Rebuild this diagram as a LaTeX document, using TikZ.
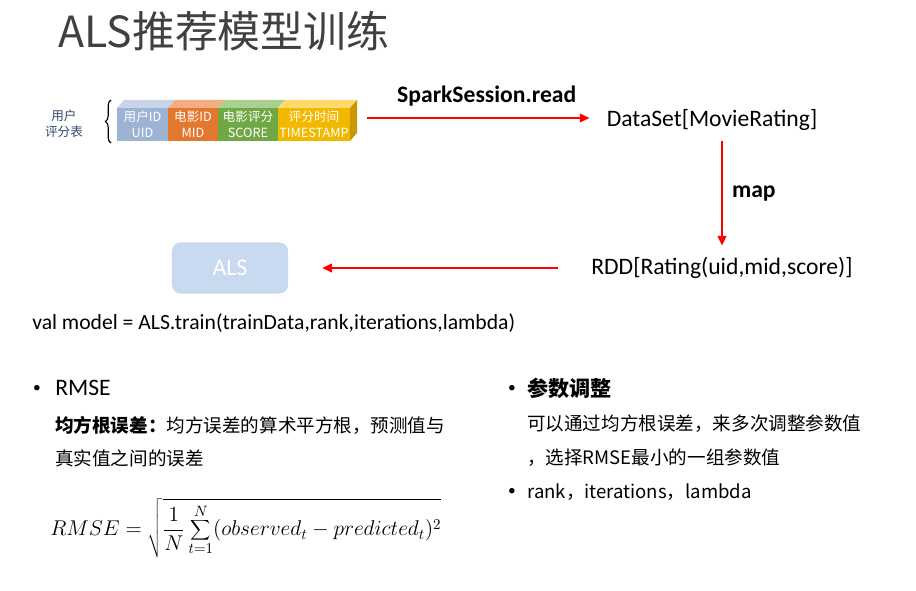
\RequirePackage{fix-cm}
\documentclass[tikz,border=0pt]{standalone}
\usepackage{fontspec}
\setmainfont{Carlito}
\newfontfamily\cjk{Noto Sans CJK SC}
\usetikzlibrary{arrows.meta,decorations.pathreplacing}
\definecolor{titlegray}{HTML}{404040}
\definecolor{tabblue}{HTML}{2F4B6E}
\definecolor{uidfront}{HTML}{9DB3D3}
\definecolor{uidtop}{HTML}{C8D5E8}
\definecolor{midfront}{HTML}{E2772E}
\definecolor{midtop}{HTML}{F2AE80}
\definecolor{scorefront}{HTML}{6FA844}
\definecolor{scoretop}{HTML}{A9D08E}
\definecolor{timefront}{HTML}{F2B800}
\definecolor{timetop}{HTML}{FFDA6A}
\definecolor{timeside}{HTML}{C99700}
\definecolor{alsfill}{HTML}{C9DAF0}
\begin{document}
\begin{tikzpicture}[x=0.025cm, y=-0.025cm, >={Triangle[length=7pt,width=6pt]},
    flow/.style={->, red, line width=1.7pt},
    latin/.style={font=\fontsize{16.8}{20}\selectfont, inner sep=0pt},
    dot/.style={inner sep=0pt, font=\fontsize{11}{12}\selectfont},
    body/.style={anchor=west, inner sep=0pt, font=\cjk\fontsize{13.2}{16}\selectfont}]
    \useasboundingbox (0,0) rectangle (916,591);
    \node[anchor=west, inner sep=0pt, text=titlegray, font=\cjk\fontsize{30.5}{36}\selectfont] (title) at (58,31) {ALS推荐模型训练};
    % rating table
    \node[align=center, text=tabblue, font=\cjk\fontsize{9}{11.5}\selectfont] (tablelabel) at (64,124) {用户\\评分表};
    \draw[decorate, decoration={brace, amplitude=4pt}, line width=0.8pt] (111,143) -- (111,100);
    \foreach \xa/\xb/\front/\top/\cn/\en in {117/168/uidfront/uidtop/用户ID/UID, 168/218/midfront/midtop/电影ID/MID, 218/278/scorefront/scoretop/电影评分/SCORE, 278/350/timefront/timetop/评分时间/TIMESTAMP} {
        \fill[\top] (\xa,108) -- (\xa+7,100) -- (\xb+7,100) -- (\xb,108) -- cycle;
        \fill[\front] (\xa,108) rectangle (\xb,141);
        \node[align=center, text=white, inner sep=0pt, font=\cjk\fontsize{9}{11.5}\selectfont] (cell-\en) at ({(\xa+\xb)/2},124.5) {\cn\\\en};
    }
    \fill[timeside] (350,108) -- (357,100) -- (357,133) -- (350,141) -- cycle;
    \coordinate (tableend) at (367,118);
    % pipeline
    \node[latin] (dataset) at (712,120) {DataSet[MovieRating]};
    \node[latin] (rdd) at (722,268) {RDD[Rating(uid,mid,score)]};
    \node[rounded corners=6pt, fill=alsfill, text=white, minimum width=2.9cm, minimum height=1.275cm, font=\fontsize{17}{20}\selectfont] (als) at (230,268) {ALS};
    \draw[flow, shorten >=12pt] (tableend) -- (tableend -| dataset.west) node[midway, above=4pt, text=black, font=\bfseries\fontsize{16.8}{20}\selectfont] (readlabel) {SparkSession.read};
    \draw[flow, shorten <=7pt, shorten >=8pt] (rdd.north |- dataset.south) -- (rdd.north) node[midway, right=3pt, text=black, font=\bfseries\fontsize{16.8}{20}\selectfont] (maplabel) {map};
    \draw[flow, shorten <=23.5pt, shorten >=24pt] (rdd.west) -- (als.east);
    \node[latin, anchor=west, font=\fontsize{15.4}{18}\selectfont] (trainline) at (32,323) {val model = ALS.train(trainData,rank,iterations,lambda)};
    % RMSE
    \node[dot] (bulletrmse) at (37,389) {\textbullet};
    \node[latin, anchor=west] (rmse) at (55,388) {RMSE};
    \node[body] (rmseline1) at (55,425) {\textbf{均方根误差：}均方误差的算术平方根，预测值与};
    \node[body] (rmseline2) at (55,458) {真实值之间的误差};
    \node[anchor=west, inner sep=0pt, font=\fontsize{15.2}{18}\selectfont] (formula) at (50,528) {$\displaystyle RMSE=\sqrt{\frac{1}{N}\sum_{t=1}^{N}(observed_t-predicted_t)^2}$};
    % tuning
    \node[dot] (bullettune) at (512,389) {\textbullet};
    \node[body, font=\cjk\bfseries\fontsize{15}{18}\selectfont] (tune) at (527,388) {参数调整};
    \node[body] (tuneline1) at (527,424) {可以通过均方根误差，来多次调整参数值};
    \node[body] (tuneline2) at (527,458) {，选择RMSE最小的一组参数值};
    \node[dot] (bulletparams) at (512,492) {\textbullet};
    \node[body] (params) at (527,492) {rank，iterations，lambda};
\end{tikzpicture}
\end{document}
